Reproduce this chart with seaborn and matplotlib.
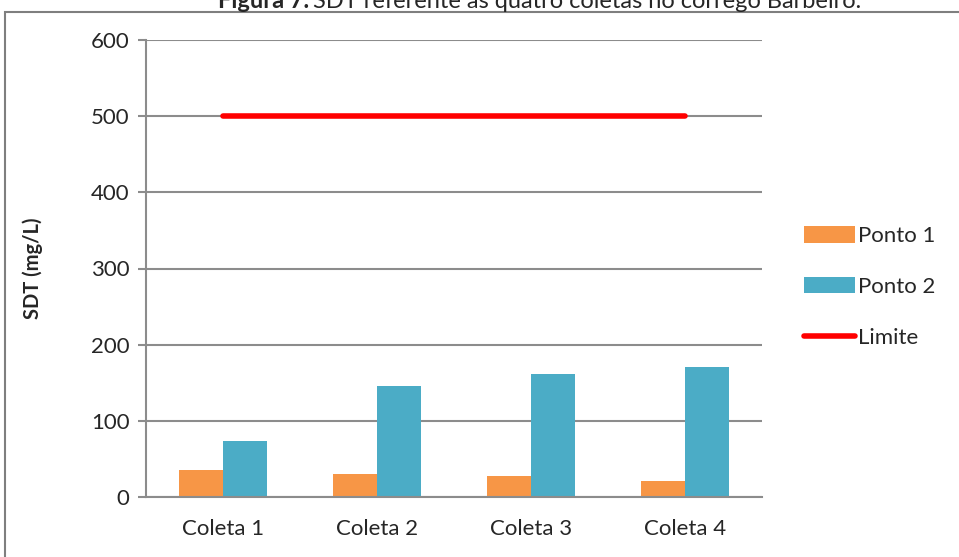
import matplotlib
matplotlib.use("Agg")
import matplotlib.pyplot as plt
import seaborn as sns
import pandas as pd
from matplotlib.patches import Patch, Rectangle
from matplotlib.lines import Line2D

categories = ["Coleta 1", "Coleta 2", "Coleta 3", "Coleta 4"]
ponto1 = [35, 30, 28, 21]
ponto2 = [73, 146, 161, 171]
limite = 500
series_names = ["Ponto 1", "Ponto 2"]
colors = ["#F79646", "#4BACC6"]

df = pd.DataFrame({
    "Coleta": categories * 2,
    "Serie": [series_names[0]] * 4 + [series_names[1]] * 4,
    "SDT": ponto1 + ponto2,
})

sns.set_style("white")
plt.rcParams["font.family"] = ["Lato", "DejaVu Sans"]

fig = plt.figure(figsize=(9.59, 5.57), dpi=100)
ax = fig.add_axes([146/959, 1-497/557, (762-146)/959, (497-40)/557])

sns.barplot(data=df, x="Coleta", y="SDT", hue="Serie", palette=colors,
            width=0.57, ax=ax, legend=False, saturation=1, edgecolor="none")

ax.plot([0, len(categories)-1], [limite, limite], color="#FF0000", lw=4,
        solid_capstyle="round", zorder=5)

ax.set_xlim(-0.5, 3.5)
ax.set_ylim(0, 600)
ax.set_yticks(range(0, 601, 100))
ax.yaxis.grid(True, color="#8C8C8C", lw=1.5)
ax.set_axisbelow(True)
for s in ["top", "right"]:
    ax.spines[s].set_visible(False)
for s in ["left", "bottom"]:
    ax.spines[s].set_color("#8C8C8C")
    ax.spines[s].set_linewidth(1.5)
ax.set_xticks([-0.5, 0.5, 1.5, 2.5, 3.5], minor=True)
ax.set_xticks(range(4))
ax.set_xticklabels(categories)
ax.tick_params(axis="x", which="major", length=0, labelsize=16, pad=16)
ax.tick_params(axis="x", which="minor", length=7, width=1.5, color="#8C8C8C", direction="out")
ax.tick_params(axis="y", length=6, width=1.5, color="#8C8C8C", labelsize=16, pad=6, left=True)
ax.set_xlabel("")
ax.set_ylabel("SDT (mg/L)", fontsize=14.5, fontweight="bold", labelpad=34)

handles = [Patch(facecolor=colors[0], edgecolor="none"),
           Patch(facecolor=colors[1], edgecolor="none"),
           Line2D([0], [0], color="#FF0000", lw=4, solid_capstyle="round")]
fig.legend(handles, series_names + ["Limite"], loc="center left",
           bbox_to_anchor=(786/959, 1-287/557), frameon=False, fontsize=16,
           handlelength=2.3, handletextpad=0.15, labelspacing=1.38, handleheight=0.75,
           borderpad=0.3)

fig.patches.append(Rectangle((5/959, -0.1), 1.2, 1.1 - 12/557, transform=fig.transFigure,
                             fill=False, edgecolor="#7F7F7F", lw=1.5))

fig.text(309/959, 1.0 - 1/557, "Figura 7.", ha="right", va="center", fontsize=17, fontweight="bold")
fig.text(313/959, 1.0 - 1/557, "SDT referente às quatro coletas no córrego Barbeiro.",
         ha="left", va="center", fontsize=17)

fig.savefig("out.png", dpi=100)
